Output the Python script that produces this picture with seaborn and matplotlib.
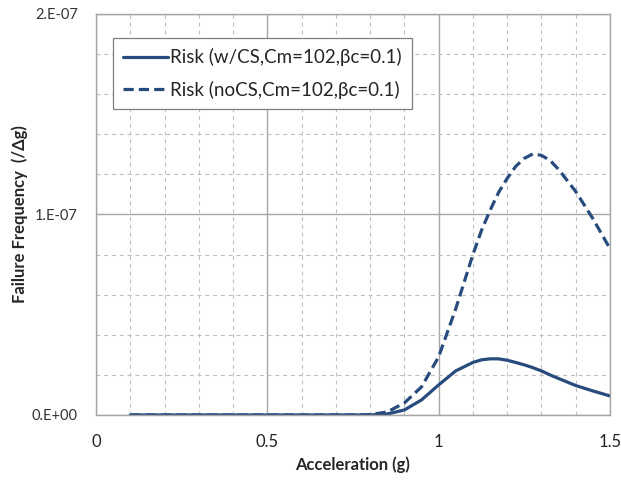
import numpy as np
import pandas as pd
import matplotlib
matplotlib.use("Agg")
import matplotlib.pyplot as plt
import seaborn as sns
from matplotlib.ticker import MultipleLocator, FixedLocator

accel = [0.10, 0.15, 0.20, 0.25, 0.30, 0.35, 0.40, 0.45, 0.50, 0.55, 0.60, 0.65, 0.70, 0.75,
         0.80, 0.85, 0.90, 0.95, 1.00, 1.05, 1.10, 1.125, 1.15, 1.175, 1.20, 1.225, 1.25, 1.275,
         1.30, 1.325, 1.35, 1.40, 1.45, 1.50]
risk_cs = [0, 0, 0, 0, 0, 0, 0, 0, 0, 0, 0, 0, 0, 0,
           0.0, 0.05e-8, 0.25e-8, 0.75e-8, 1.5e-8, 2.2e-8, 2.62e-8, 2.75e-8, 2.8e-8, 2.8e-8,
           2.73e-8, 2.62e-8, 2.5e-8, 2.36e-8,
           2.2e-8, 2.0e-8, 1.82e-8, 1.47e-8, 1.2e-8, 0.95e-8]
risk_nocs = [0, 0, 0, 0, 0, 0, 0, 0, 0, 0, 0, 0, 0, 0,
             0.02e-8, 0.15e-8, 0.6e-8, 1.4e-8, 2.9e-8, 5.3e-8, 8.0e-8, 9.2e-8, 10.2e-8, 11.1e-8,
             11.8e-8, 12.4e-8, 12.8e-8, 13.02e-8,
             12.95e-8, 12.7e-8, 12.25e-8, 11.15e-8, 9.8e-8, 8.3e-8]
labels = ["Risk (w/CS,Cm=102,\u03b2c=0.1)", "Risk (noCS,Cm=102,\u03b2c=0.1)"]
yticks = [0, 1e-7, 2e-7]
ytick_labels = ["0.E+00", "1.E-07", "2.E-07"]
xticks = [0, 0.5, 1, 1.5]
xtick_labels = ["0", "0.5", "1", "1.5"]

df = pd.DataFrame({
    "accel": accel * 2,
    "value": risk_cs + risk_nocs,
    "series": [labels[0]] * len(accel) + [labels[1]] * len(accel),
})

sns.set_style("white")
plt.rcParams["font.family"] = ["Lato", "DejaVu Sans"]

fig = plt.figure(figsize=(6.21, 4.84), dpi=100)
ax = fig.add_axes([0.1546, 0.1426, 0.8276, 0.8285])

color = "#274B7C"
sns.lineplot(data=df, x="accel", y="value", hue="series", style="series",
             palette=[color, color], dashes=[(None, None), (3.2, 1.6)],
             linewidth=2.3, ax=ax, legend=True)

ax.set_xlim(0, 1.5)
ax.set_ylim(0, 2e-7)
ax.xaxis.set_major_locator(FixedLocator(xticks))
ax.set_xticklabels(xtick_labels)
ax.yaxis.set_major_locator(FixedLocator(yticks))
ax.set_yticklabels(ytick_labels)
ax.xaxis.set_minor_locator(MultipleLocator(0.1))
ax.yaxis.set_minor_locator(MultipleLocator(0.2e-7))

ax.grid(which="major", color="#A6A6A6", linewidth=1.0, linestyle="-")
ax.grid(which="minor", color="#BFBFBF", linewidth=0.8, linestyle=(0, (3.5, 3.5)))
ax.set_axisbelow(True)
for s in ax.spines.values():
    s.set_color("#A6A6A6")
    s.set_linewidth(1.0)

ax.tick_params(axis="x", which="both", length=0, pad=14, labelsize=12, colors="#222222")
ax.tick_params(axis="y", which="both", length=0, pad=13, labelsize=10.5, colors="#333333")

ax.set_xlabel("Acceleration (g)", fontsize=12, fontweight="bold", labelpad=4)
ax.set_ylabel("Failure Frequency  (/\u0394g)", fontsize=12, fontweight="bold", labelpad=3)

leg = ax.legend(loc="upper left", bbox_to_anchor=(0.033, 0.94), frameon=True, fancybox=False,
                fontsize=13.5, handlelength=2.4, handletextpad=0.1, borderpad=0.55,
                labelspacing=0.75, borderaxespad=0)
leg.get_frame().set_edgecolor("#7F7F7F")
leg.get_frame().set_linewidth(0.9)
leg.get_frame().set_alpha(1)
for h in leg.get_lines():
    h.set_linewidth(2.3)

fig.savefig("out.png", dpi=100)
